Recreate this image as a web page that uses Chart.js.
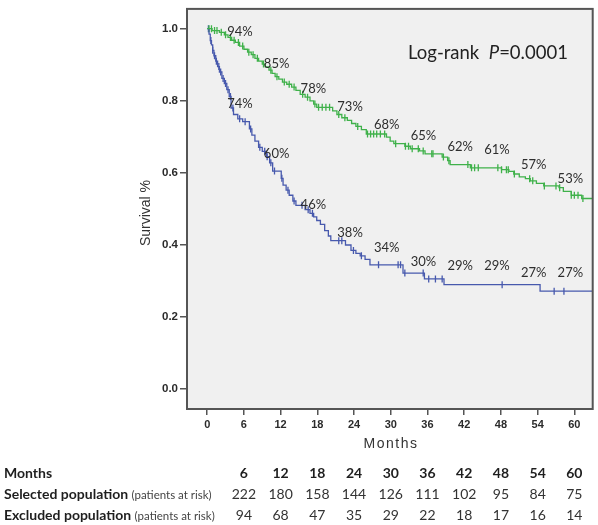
<!DOCTYPE html>
<html lang="en">
<head>
<meta charset="UTF-8">
<title>Survival by population</title>
<script src="https://cdn.jsdelivr.net/npm/chart.js"></script>
<style>
  html, body { margin: 0; padding: 0; background: #fff; }
</style>
</head>
<body>
<canvas id="kmChart" width="598" height="525"></canvas>
<script>
// axis ticks
const monthTicks = [0, 6, 12, 18, 24, 30, 36, 42, 48, 54, 60];
const survivalTicks = [0, 0.2, 0.4, 0.6, 0.8, 1.0];

// step points (month, survival after the drop)
const selectedTimes = [0, 0.8, 2.0, 2.8, 3.4, 4.0, 4.6, 5.3, 6.0, 6.6, 7.2, 7.8, 8.4, 9.0, 9.5, 10.1, 10.6, 11.1, 11.7, 12.3,
  13.0, 13.8, 14.5, 15.2, 16.0, 16.8, 17.4, 17.9, 20.5, 21.2, 22.0, 22.9, 23.6, 24.3, 25.2, 26.0, 29.3, 29.9, 30.5,
  32.3, 33.2, 34.7, 35.6, 38.4, 39.3, 39.7, 43.0, 48.1, 49.3, 50.1, 51.0, 52.0, 52.8, 53.8, 55.0, 57.5, 58.2, 59.5, 61.2, 63];
const selectedSurvival = [1.0, 0.995, 0.99, 0.983, 0.976, 0.968, 0.962, 0.952, 0.943, 0.935, 0.928, 0.918, 0.91, 0.902, 0.894, 0.885, 0.876, 0.867, 0.86, 0.852,
  0.846, 0.838, 0.829, 0.818, 0.81, 0.80, 0.791, 0.782, 0.772, 0.762, 0.753, 0.746, 0.737, 0.729, 0.72, 0.708, 0.699, 0.688, 0.681,
  0.674, 0.667, 0.661, 0.653, 0.644, 0.634, 0.623, 0.614, 0.609, 0.604, 0.597, 0.589, 0.584, 0.578, 0.571, 0.564, 0.559, 0.549, 0.538, 0.529, 0.529];

const excludedTimes = [0, 0.3, 0.5, 0.7, 0.9, 1.1, 1.4, 1.7, 2.0, 2.4, 2.8, 3.2, 3.6, 3.9, 4.3, 5.0, 5.8, 6.9, 7.3, 7.8, 8.4, 9.0, 9.7,
  10.2, 10.7, 12.1, 12.4, 12.9, 13.4, 14.0, 14.5, 16.0, 16.8, 17.4, 17.9, 18.5, 19.2, 19.8, 20.2, 22.6, 23.5, 24.3, 25.0, 25.8,
  26.6, 32.0, 35.5, 38.7, 54.4, 63];
const excludedSurvival = [1.0, 0.985, 0.967, 0.955, 0.94, 0.925, 0.91, 0.895, 0.88, 0.862, 0.848, 0.831, 0.812, 0.78, 0.762, 0.75, 0.742, 0.722, 0.705, 0.688, 0.671, 0.66, 0.645,
  0.628, 0.605, 0.585, 0.566, 0.552, 0.538, 0.522, 0.51, 0.498, 0.488, 0.478, 0.468, 0.457, 0.44, 0.425, 0.412, 0.40, 0.385, 0.377, 0.37, 0.36,
  0.345, 0.322, 0.306, 0.29, 0.272, 0.272];

// censored observations (month)
const selectedCensored = [0.3, 0.7, 1.2, 1.6, 2.3, 3.0, 3.8, 4.4, 5.1, 5.8, 6.8, 7.5, 8.2, 9.2, 10.4, 11.4, 12.6, 13.4, 14.2, 15.6, 16.4,
  17.6, 18.2, 18.8, 19.4, 20.0, 21.5, 22.5, 24.6, 26.2, 26.7, 27.2, 27.7, 28.3, 29.0, 30.8, 32.4, 32.9, 33.5, 34.5, 35.3, 36.7, 36.9,
  38.6, 39.5, 42.6, 43.2, 43.7, 44.3, 47.5, 48.1, 48.9, 49.2, 50.2, 52.7, 53.2, 55.1, 57.0, 57.6, 59.5, 60.0, 60.6, 61.4];
const excludedCensored = [0.2, 0.6, 0.9, 1.2, 1.5, 1.9, 2.2, 2.6, 3.0, 3.4, 3.8, 4.2, 5.3, 6.2, 7.1, 8.6, 9.4, 9.8, 10.4, 11.0, 12.2,
  13.2, 14.2, 15.5, 16.5, 17.2, 21.5, 22.0, 23.9, 25.2, 28.0, 31.2, 31.6, 32.3, 35.3, 36.2, 37.3, 38.4, 48.2, 56.7, 58.3];

// survival labels at each 6-month mark (%)
const labelMonths = [6, 12, 18, 24, 30, 36, 42, 48, 54, 60];
const selectedPct = [94, 85, 78, 73, 68, 65, 62, 61, 57, 53];
const excludedPct = [74, 60, 46, 38, 34, 30, 29, 29, 27, 27];

// patients at risk
const selectedAtRisk = [222, 180, 158, 144, 126, 111, 102, 95, 84, 75];
const excludedAtRisk = [94, 68, 47, 35, 29, 22, 18, 17, 16, 14];

const GREEN = '#3fb14a';
const BLUE = '#4759ad';
const TEXT = '#333333';

function toPoints(times, surv) {
  return times.map((t, i) => ({ x: t, y: surv[i] }));
}

// value of the step curve at month t
function stepValue(times, surv, t) {
  let v = surv[0];
  for (let i = 0; i < times.length; i++) {
    if (times[i] <= t) v = surv[i];
  }
  return v;
}

function censorPoints(cens, times, surv) {
  return cens.map(t => ({ x: t, y: stepValue(times, surv, t) }));
}

const decor = {
  id: 'decor',
  beforeDatasetsDraw(chart) {
    const { ctx, chartArea: a } = chart;
    ctx.save();
    ctx.fillStyle = '#f0f0f0';
    ctx.fillRect(a.left, a.top, a.right - a.left, a.bottom - a.top);
    ctx.restore();
  },
  afterDraw(chart) {
    const { ctx, chartArea: a } = chart;
    const xs = chart.scales.x, ys = chart.scales.y;
    ctx.save();

    // frame
    ctx.strokeStyle = '#555';
    ctx.lineWidth = 2;
    ctx.strokeRect(a.left, a.top, a.right - a.left, a.bottom - a.top);

    // percentage labels
    ctx.fillStyle = '#2e2e2e';
    ctx.font = '13px Lato, sans-serif';
    ctx.textAlign = 'center';
    ctx.textBaseline = 'middle';
    labelMonths.forEach((m, i) => {
      const x = xs.getPixelForValue(m) - 4;
      ctx.fillText(selectedPct[i] + '%', x, ys.getPixelForValue(selectedPct[i] / 100) - 19);
      ctx.fillText(excludedPct[i] + '%', x, ys.getPixelForValue(excludedPct[i] / 100) - 19);
    });

    // log-rank text
    ctx.fillStyle = '#222';
    ctx.textAlign = 'left';
    ctx.textBaseline = 'alphabetic';
    let lx = 408;
    ctx.font = '18.5px Lato, sans-serif';
    ctx.fillText('Log-rank  ', lx, 59);
    lx += ctx.measureText('Log-rank  ').width;
    ctx.font = 'italic 18.5px Lato, sans-serif';
    ctx.fillText('P', lx, 59);
    lx += ctx.measureText('P').width;
    ctx.font = '18.5px Lato, sans-serif';
    ctx.fillText('=0.0001', lx, 59);

    // axis titles
    ctx.fillStyle = TEXT;
    ctx.font = '14px "Liberation Sans", Arial, sans-serif';
    ctx.textAlign = 'center';
    ctx.textBaseline = 'middle';
    ctx.save();
    ctx.translate(146, 213);
    ctx.rotate(-Math.PI / 2);
    ctx.fillText('Survival %', 0, 0);
    ctx.restore();
    ctx.font = '14px "Liberation Sans", Arial, sans-serif';
    ctx.letterSpacing = '1.5px';
    ctx.fillText('Months', 391, 444);
    ctx.letterSpacing = '0px';

    // at-risk table
    const rows = [473, 494, 515];
    ctx.fillStyle = '#1e1e1e';
    ctx.textAlign = 'left';
    ctx.font = 'bold 14px Lato, sans-serif';
    ctx.fillText('Months', 4, rows[0]);
    ctx.fillText('Selected population', 4, rows[1]);
    const w1 = ctx.measureText('Selected population ').width;
    ctx.fillText('Excluded population', 4, rows[2]);
    const w2 = ctx.measureText('Excluded population ').width;
    ctx.fillStyle = '#444';
    ctx.font = '11.5px Lato, sans-serif';
    ctx.fillText('(patients at risk)', 4 + w1, rows[1] + 1);
    ctx.fillText('(patients at risk)', 4 + w2, rows[2] + 1);

    ctx.textAlign = 'center';
    labelMonths.forEach((m, i) => {
      const x = xs.getPixelForValue(m);
      ctx.fillStyle = '#1e1e1e';
      ctx.font = 'bold 14px Lato, sans-serif';
      ctx.fillText(String(m), x, rows[0]);
      ctx.fillStyle = '#333';
      ctx.font = '14px Lato, sans-serif';
      ctx.fillText(String(selectedAtRisk[i]), x, rows[1]);
      ctx.fillText(String(excludedAtRisk[i]), x, rows[2]);
    });

    ctx.restore();
  }
};

new Chart(document.getElementById('kmChart').getContext('2d'), {
  type: 'line',
  data: {
    datasets: [
      {
        label: 'Selected population',
        data: toPoints(selectedTimes, selectedSurvival),
        stepped: true,
        borderColor: GREEN,
        borderWidth: 1.3,
        pointRadius: 0,
        fill: false
      },
      {
        label: 'Excluded population',
        data: toPoints(excludedTimes, excludedSurvival),
        stepped: true,
        borderColor: BLUE,
        borderWidth: 1.3,
        pointRadius: 0,
        fill: false
      },
      {
        label: 'Selected censored',
        data: censorPoints(selectedCensored, selectedTimes, selectedSurvival),
        showLine: false,
        pointStyle: 'line',
        rotation: 90,
        pointRadius: 3.5,
        pointBorderWidth: 1.3,
        borderColor: GREEN,
        backgroundColor: GREEN
      },
      {
        label: 'Excluded censored',
        data: censorPoints(excludedCensored, excludedTimes, excludedSurvival),
        showLine: false,
        pointStyle: 'line',
        rotation: 90,
        pointRadius: 3.5,
        pointBorderWidth: 1.3,
        borderColor: BLUE,
        backgroundColor: BLUE
      }
    ]
  },
  options: {
    responsive: false,
    animation: false,
    devicePixelRatio: 1,
    layout: { padding: { top: 3, right: 5, left: 0, bottom: 0 } },
    plugins: {
      legend: { display: false },
      tooltip: { enabled: false }
    },
    scales: {
      x: {
        type: 'linear',
        min: -3.3,
        max: 63,
        afterBuildTicks: s => { s.ticks = monthTicks.map(v => ({ value: v })); },
        afterFit: s => { s.height = 116; },
        grid: { drawOnChartArea: false, drawTicks: true, tickLength: 6, color: '#555', lineWidth: 1.5 },
        border: { display: false },
        ticks: {
          autoSkip: false,
          maxRotation: 0,
          padding: 3,
          color: '#2b2b2b',
          font: { family: '"Liberation Sans", Arial, sans-serif', size: 11, weight: 'bold' }
        }
      },
      y: {
        type: 'linear',
        min: -0.055,
        max: 1.055,
        afterBuildTicks: s => { s.ticks = survivalTicks.map(v => ({ value: v })); },
        afterFit: s => { s.width = 187; },
        grid: { drawOnChartArea: false, drawTicks: true, tickLength: 7, color: '#555', lineWidth: 1.5 },
        border: { display: false },
        ticks: {
          padding: 2,
          color: '#2b2b2b',
          font: { family: '"Liberation Sans", Arial, sans-serif', size: 11.5, weight: 'bold' },
          callback: v => v.toFixed(1)
        }
      }
    }
  },
  plugins: [decor]
});
</script>
</body>
</html>
